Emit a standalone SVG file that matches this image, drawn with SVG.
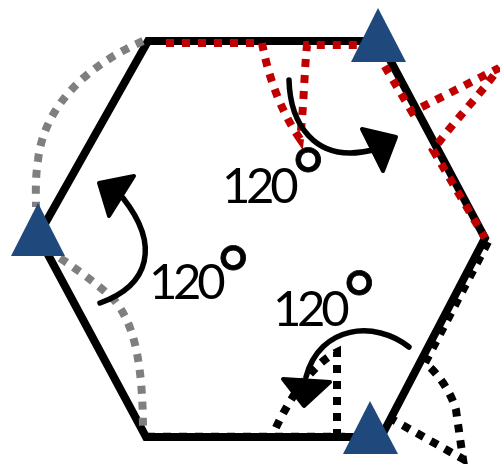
<svg xmlns="http://www.w3.org/2000/svg" width="500" height="464" viewBox="0 0 500 464">
<style>
.edge{fill:none;stroke:#000;stroke-width:8}
.dot{fill:none;stroke-width:8;stroke-dasharray:8 8}
.gray{stroke:#7f7f7f}
.red{stroke:#c00000}
.blk{stroke:#000}
.tri{fill:#1f497d}
.turn{fill:none;stroke:#000;stroke-width:5.5;stroke-linecap:round}
.head{fill:#000;stroke:#000;stroke-width:4;stroke-linejoin:round}
text{font-family:"Lato","Open Sans","Liberation Sans",sans-serif;font-size:49px;fill:#000;letter-spacing:-4.3px}
.deg{font-size:76px;stroke:#000;stroke-width:.8}
</style>
<g id="connectors">
<path class="dot gray" d="M147 436.5H345"/>
<path id="hexagon" class="edge" d="M148 41H380L485 238L381 437H146L38 236Z"/>
<path class="dot gray" d="M143 41C95 62 45 100 38 160C35 180 36 195 36 207"/>
<path class="dot gray" d="M60 258C85 275 105 290 115 301C130 320 143 350 143 432"/>
<path class="dot red" d="M166 43H262C268 75 280 110 300 139C304 105 304 75 307 45H372L412 112L499 68C480 95 455 120 433 150L485 238"/>
<path class="dot blk" d="M488 242L425 363C440 375 452 395 456 410L463 459L388 417"/>
<path class="dot blk" d="M337 437V352C320 360 295 385 273 434"/>
<path class="turn" d="M289 80C290 120 312 165 373 150"/>
<path class="head" d="M362 129L396 137L383 171Z"/>
<path class="turn" d="M100 303C150 285 160 245 123 198"/>
<path class="head" d="M99 183L134 176L109 216Z"/>
<path class="turn" d="M409 347C375 320 320 325 306 377"/>
<path class="head" d="M283 379L330 382L304 406Z"/>
</g>
<g id="node-top"><path class="tri" d="M378 8L406 62H351Z"/></g>
<g id="node-left"><path class="tri" d="M38 203L65 256H11Z"/></g>
<g id="node-bottom"><path class="tri" d="M370 401L398 454H343Z"/></g>
<g id="label-top"><text x="222" y="203">120<tspan class="deg" dx="-2">°</tspan></text></g>
<g id="label-left"><text x="149" y="299">120<tspan class="deg" dx="-4" dy="2">°</tspan></text></g>
<g id="label-bottom"><text x="273" y="326">120<tspan class="deg" dx="-2">°</tspan></text></g>
</svg>
